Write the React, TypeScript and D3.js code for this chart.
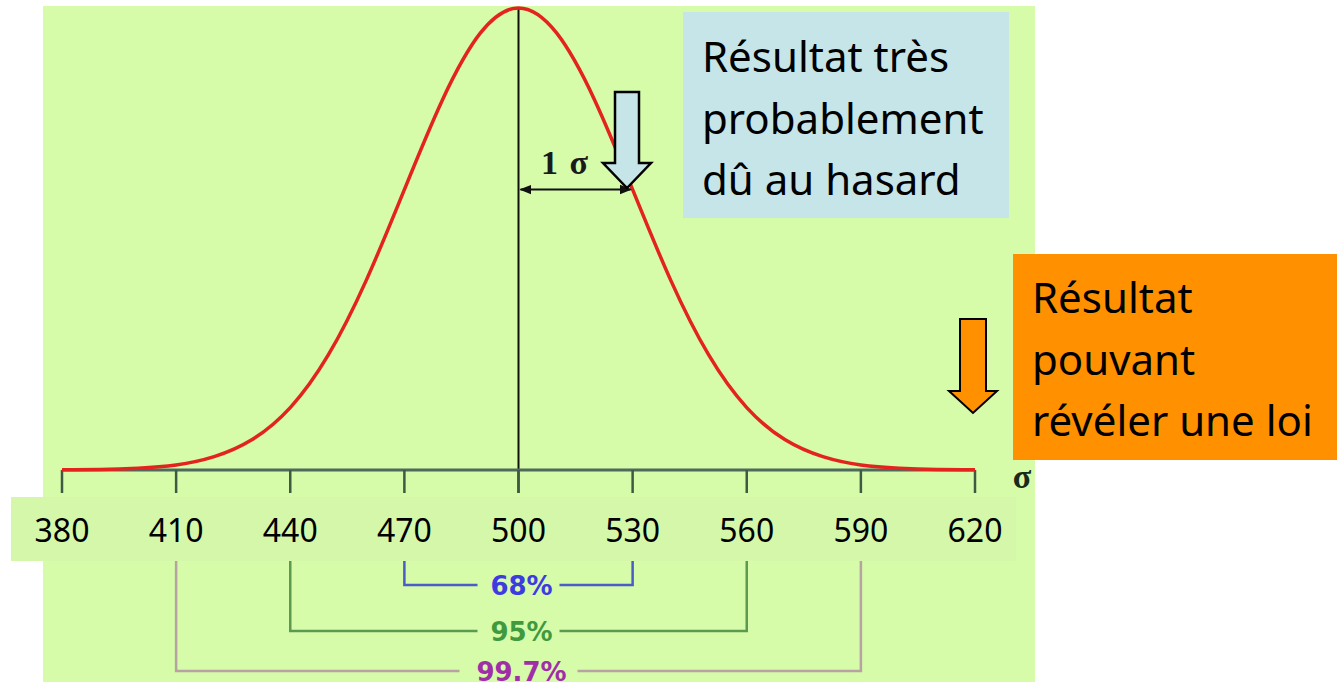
import React from "react";
import * as d3 from "d3";

// Axis tick values
const tickValues = [380, 410, 440, 470, 500, 530, 560, 590, 620];
// Curve readings: x value and relative height (peak = 1)
const curveX = [380, 390, 400, 410, 420, 430, 440, 450, 460, 470, 480, 490, 500, 510, 520, 530, 540, 550, 560, 570, 580, 590, 600, 610, 620];
const curveY = [0.0003, 0.0012, 0.004, 0.011, 0.029, 0.066, 0.135, 0.249, 0.411, 0.607, 0.801, 0.946, 1, 0.946, 0.801, 0.607, 0.411, 0.249, 0.135, 0.066, 0.029, 0.011, 0.004, 0.0012, 0.0003];
// Confidence brackets
const bracketLabels = ["68%", "95%", "99.7%"];
const bracketLow = [470, 440, 410];
const bracketHigh = [530, 560, 590];
const bracketTextColors = ["#3c3ce0", "#3f9a3f", "#a02ea8"];
const bracketLineColors = ["#4a5cc8", "#5c9a50", "#b8a2a6"];
// Annotation texts
const blueLines = ["Résultat très", "probablement", "dû au hasard"];
const orangeLines = ["Résultat", "pouvant", "révéler une loi"];

const W = 1337;
const H = 682;

export default function App() {
  const x = d3.scaleLinear().domain([380, 620]).range([62, 975]);
  const y = d3.scaleLinear().domain([0, 1]).range([470, 8]);
  const line = d3
    .line<number>()
    .x((_, i) => x(curveX[i]))
    .y((v) => y(v))
    .curve(d3.curveNatural);
  const axisY = y(0);
  const bracketY = [585, 631, 671];
  const sigmaY = y(curveY[curveX.indexOf(530)]);
  const mainFont = "'Noto Sans', 'Open Sans', sans-serif";

  const downArrow = (cx: number, top: number, shaftBottom: number, tip: number, shaftW: number, headW: number) =>
    `M${cx - shaftW / 2},${top} L${cx + shaftW / 2},${top} L${cx + shaftW / 2},${shaftBottom} L${cx + headW / 2},${shaftBottom} L${cx},${tip} L${cx - headW / 2},${shaftBottom} L${cx - shaftW / 2},${shaftBottom} Z`;

  return (
    <svg width={W} height={H} style={{ position: "absolute", left: 0, top: 0, background: "#ffffff" }}>
      <defs>
        <marker id="ah" viewBox="0 0 10 10" refX="9" refY="5" markerWidth="6" markerHeight="6" orient="auto-start-reverse">
          <path d="M0,1 L10,5 L0,9 Z" fill="#111" />
        </marker>
      </defs>
      <rect x={43} y={6} width={992} height={676} fill="#d6fba9" />

      <line x1={x(500)} x2={x(500)} y1={8} y2={493} stroke="#111" strokeWidth={2} />

      <line x1={x(380)} x2={x(620)} y1={axisY} y2={axisY} stroke="#4e6a5c" strokeWidth={3} />
      {tickValues.map((t) => (
        <line key={t} x1={x(t)} x2={x(t)} y1={axisY} y2={493} stroke="#3d5a44" strokeWidth={2.5} />
      ))}

      <path d={line(curveY) || ""} fill="none" stroke="#e3231e" strokeWidth={3.5} />

      <text x={1022} y={488} textAnchor="middle" fontFamily="'Liberation Serif', serif" fontWeight="bold" fontSize={34} fill="#1a2a1a">σ</text>

      <line x1={x(500) + 2} x2={x(530) - 2} y1={sigmaY} y2={sigmaY} stroke="#111" strokeWidth={2} markerStart="url(#ah)" markerEnd="url(#ah)" />
      <text x={541} y={174} fontFamily="'Liberation Serif', serif" fontWeight="bold" fontSize={34} fill="#1a1a1a" wordSpacing={3}>1 σ</text>

      <rect x={11} y={497} width={1005} height={64} fill="#d5f7a9" />
      {tickValues.map((t) => (
        <text key={t} x={x(t)} y={542} textAnchor="middle" fontFamily={mainFont} fontSize={32} fill="#000">{t}</text>
      ))}

      {bracketLabels.map((lab, i) => {
        const x1 = x(bracketLow[i]);
        const x2 = x(bracketHigh[i]);
        const cx = x(500);
        const by = bracketY[i];
        const half = lab.length * 9 + 14;
        return (
          <g key={lab}>
            <path d={`M${x1},561 L${x1},${by} L${cx - half},${by}`} fill="none" stroke={bracketLineColors[i]} strokeWidth={2.5} />
            <path d={`M${cx + half},${by} L${x2},${by} L${x2},561`} fill="none" stroke={bracketLineColors[i]} strokeWidth={2.5} />
            <text x={cx + 3} y={by + 10} textAnchor="middle" fontFamily="'DejaVu Sans', sans-serif" fontWeight="bold" fontSize={26} fill={bracketTextColors[i]}>{lab}</text>
          </g>
        );
      })}

      <rect x={683} y={12} width={326} height={206} fill="#c6e5e8" />
      {blueLines.map((s, i) => (
        <text key={s} x={702} y={72 + i * 61.5} fontFamily={mainFont} fontSize={42} fill="#000">{s}</text>
      ))}
      <path d={downArrow(627, 92, 163, 188, 24, 48)} fill="#c6e5e8" stroke="#000" strokeWidth={2.5} />

      <rect x={1013} y={254} width={324} height={206} fill="#ff9100" />
      {orangeLines.map((s, i) => (
        <text key={s} x={1032} y={313 + i * 61.5} fontFamily={mainFont} fontSize={42} fill="#000">{s}</text>
      ))}
      <path d={downArrow(973, 319, 391, 413, 26, 48)} fill="#ff9100" stroke="#000" strokeWidth={2} />
    </svg>
  );
}
